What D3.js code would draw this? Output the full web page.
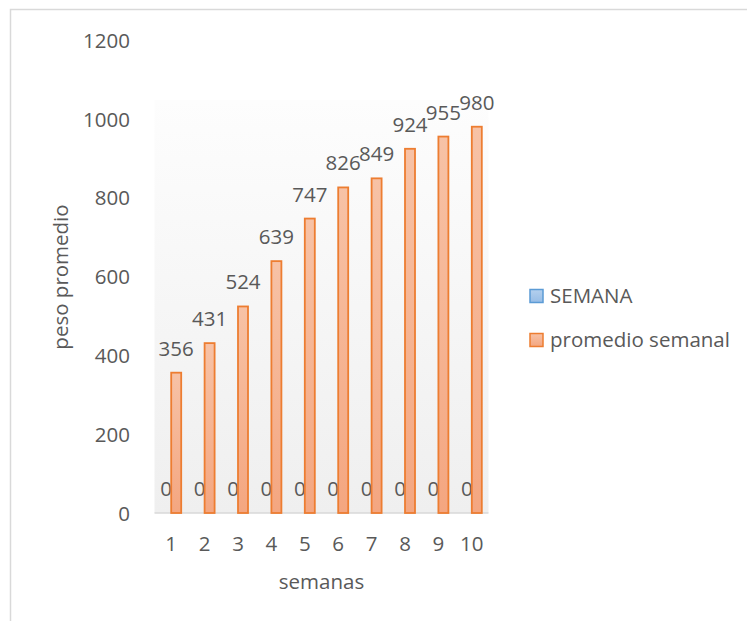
<!DOCTYPE html>
<html>
<head>
<meta charset="utf-8">
<script src="https://cdn.jsdelivr.net/npm/d3@7"></script>
<style>
  html, body { margin: 0; padding: 0; background: #ffffff; }
  svg { display: block; }
  text { font-family: "Open Sans", "Liberation Sans", sans-serif; fill: #595959; }
</style>
</head>
<body>
<svg id="chart" width="747" height="621"></svg>
<script>
const categories = ["1", "2", "3", "4", "5", "6", "7", "8", "9", "10"];
const seriesNames = ["SEMANA", "promedio semanal"];
const semanaValues = [0, 0, 0, 0, 0, 0, 0, 0, 0, 0];
const promedioValues = [356, 431, 524, 639, 747, 826, 849, 924, 955, 980];
const yTicks = [0, 200, 400, 600, 800, 1000, 1200];
const xTitle = "semanas";
const yTitle = "peso promedio";

const svg = d3.select("#chart");
const W = 747, H = 621;
const FS = 20.5;

// chart border (left/top visible)
svg.append("rect")
  .attr("x", 10.5).attr("y", 9.5)
  .attr("width", W + 10).attr("height", H + 10)
  .attr("fill", "#ffffff").attr("stroke", "#d9d9d9").attr("stroke-width", 1.5);

const plot = { left: 154.5, right: 488.5, top: 100, bottom: 513 };

const defs = svg.append("defs");
const bg = defs.append("linearGradient").attr("id", "bgGrad")
  .attr("x1", 0).attr("y1", 0).attr("x2", 0).attr("y2", 1);
bg.append("stop").attr("offset", "0%").attr("stop-color", "#fdfdfd");
bg.append("stop").attr("offset", "100%").attr("stop-color", "#efefef");

const og = defs.append("linearGradient").attr("id", "orangeGrad")
  .attr("x1", 0).attr("y1", 0).attr("x2", 0).attr("y2", 1);
og.append("stop").attr("offset", "0%").attr("stop-color", "#f7c2a6");
og.append("stop").attr("offset", "100%").attr("stop-color", "#f4a680");

const bgd = defs.append("linearGradient").attr("id", "blueGrad")
  .attr("x1", 0).attr("y1", 0).attr("x2", 0).attr("y2", 1);
bgd.append("stop").attr("offset", "0%").attr("stop-color", "#b4d0ee");
bgd.append("stop").attr("offset", "100%").attr("stop-color", "#97bde6");

svg.append("rect")
  .attr("x", plot.left).attr("y", plot.top)
  .attr("width", plot.right - plot.left).attr("height", plot.bottom - plot.top)
  .attr("fill", "url(#bgGrad)");

const x = d3.scaleBand().domain(categories).range([plot.left, plot.right]).padding(0);
const y = d3.scaleLinear().domain([0, 1200]).range([513, 40]);
const barW = 10;

// baseline
svg.append("line")
  .attr("x1", plot.left).attr("x2", plot.right)
  .attr("y1", y(0)).attr("y2", y(0))
  .attr("stroke", "#d9d9d9").attr("stroke-width", 1.5);

const series = [
  { name: seriesNames[0], values: semanaValues, fill: "url(#blueGrad)", stroke: "#5b9bd5", offset: -barW },
  { name: seriesNames[1], values: promedioValues, fill: "url(#orangeGrad)", stroke: "#ed7d31", offset: 0 }
];

series.forEach(s => {
  const g = svg.append("g");
  const cx = d => x(d.cat) + x.bandwidth() / 2 + s.offset;
  const data = categories.map((c, i) => ({ cat: c, v: s.values[i] }));
  g.selectAll("rect").data(data.filter(d => d.v > 0)).join("rect")
    .attr("x", cx).attr("y", d => y(d.v))
    .attr("width", barW).attr("height", d => y(0) - y(d.v))
    .attr("fill", s.fill).attr("stroke", s.stroke).attr("stroke-width", 1.8);
  g.selectAll("text").data(data).join("text")
    .attr("x", d => cx(d) + barW / 2)
    .attr("y", d => y(d.v) - 17)
    .attr("text-anchor", "middle")
    .attr("font-size", FS)
    .text(d => d.v);
});

// y axis
const yAxis = d3.axisLeft(y).tickValues(yTicks).tickFormat(d3.format("d")).tickSize(0).tickPadding(0);
const ya = svg.append("g").attr("transform", "translate(130,0)").call(yAxis);
ya.select(".domain").remove();
ya.selectAll("text").attr("font-size", FS).attr("fill", "#595959")
  .style("font-family", "'Open Sans', sans-serif").attr("dy", "0.35em");

// x axis
const xAxis = d3.axisBottom(x).tickSize(0).tickPadding(0);
const xa = svg.append("g").attr("transform", `translate(0,${y(0)})`).call(xAxis);
xa.select(".domain").remove();
xa.selectAll("text").attr("font-size", FS).attr("fill", "#595959")
  .style("font-family", "'Open Sans', sans-serif").attr("dy", "0").attr("y", 38);

// titles
svg.append("text").attr("x", 321.5).attr("y", 589).attr("text-anchor", "middle")
  .attr("font-size", FS).text(xTitle);
svg.append("text").attr("transform", "translate(68,277) rotate(-90)")
  .attr("text-anchor", "middle").attr("font-size", FS).text(yTitle);

// legend
const legend = svg.append("g");
series.forEach((s, i) => {
  const ly = 296 + i * 44;
  legend.append("rect").attr("x", 530).attr("y", ly - 6.5).attr("width", 13).attr("height", 13)
    .attr("fill", s.fill).attr("stroke", s.stroke).attr("stroke-width", 1.5);
  legend.append("text").attr("x", 550).attr("y", ly).attr("dy", "0.35em")
    .attr("font-size", FS).text(s.name);
});
</script>
</body>
</html>
